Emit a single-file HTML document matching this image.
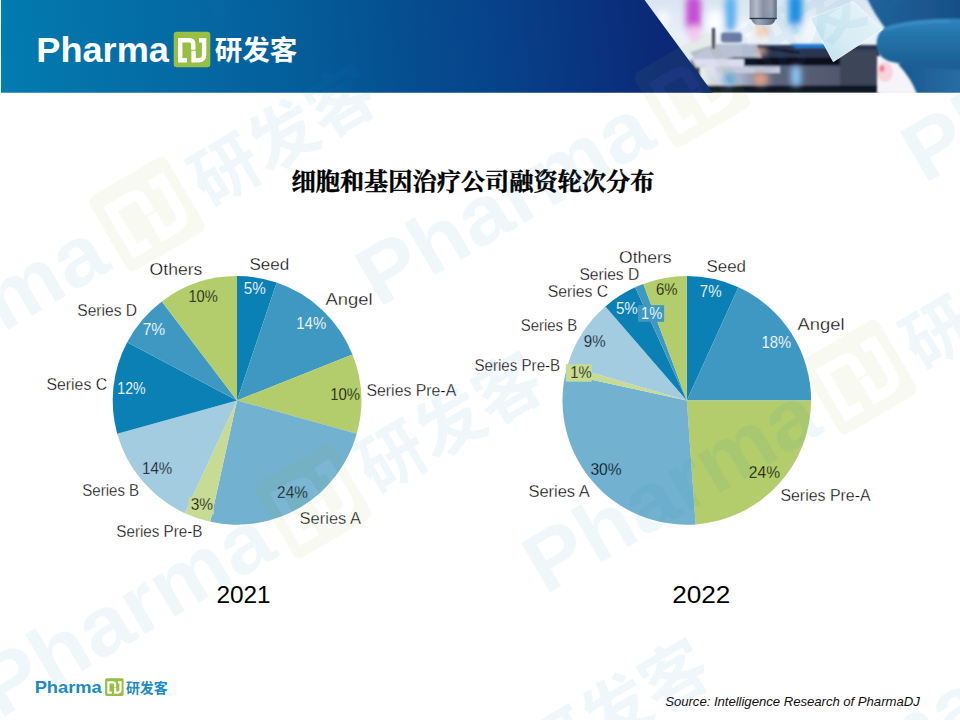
<!DOCTYPE html>
<html lang="zh-CN">
<head>
<meta charset="utf-8">
<title>细胞和基因治疗公司融资轮次分布 - PharmaDJ 研发客</title>
<style>
html,body{margin:0;padding:0;background:#fff}
body{width:960px;height:720px;overflow:hidden;position:relative;font-family:"Liberation Sans",sans-serif}
#slide{position:absolute;left:0;top:0;width:960px;height:720px;overflow:hidden;background:#fff}
svg{position:absolute;left:0;top:0;display:block}
svg text{font-family:"Liberation Sans",sans-serif}
svg text.cjk{font-family:"Liberation Sans","Noto Sans CJK SC",sans-serif;font-weight:bold;font-size:27.8px}
svg text.ttl{font-family:"Liberation Serif","Noto Serif CJK SC",serif;font-weight:bold;font-size:23.7px;fill:#000}
.lbl text{font-size:16px;stroke-width:.32px}
.lbl text.w{stroke-width:.16px}
.yr text{font-size:24.8px;fill:#000}
.src{font-size:13.2px;font-style:italic;fill:#111}
.brand{font-weight:bold;font-size:34.2px}
</style>
</head>
<body>
<div id="slide">
<svg width="960" height="720" viewBox="0 0 960 720">
<defs>
<linearGradient id="hdr" gradientUnits="userSpaceOnUse" x1="0" y1="70" x2="712" y2="10">
<stop offset="0" stop-color="#017cb1"/><stop offset=".14" stop-color="#0471a8"/><stop offset=".27" stop-color="#0569a3"/><stop offset=".42" stop-color="#045d99"/><stop offset=".56" stop-color="#054f90"/><stop offset=".7" stop-color="#074289"/><stop offset=".92" stop-color="#0b2977"/><stop offset="1" stop-color="#0b2673"/>
</linearGradient>
<g id="djbox"><rect x="173.7" y="31.8" width="36.6" height="35.4" rx="3.2"/></g>
<g id="djglyph" fill="none" stroke-width="4.4"><path d="M187 60.2H180.2V40.2H189.3Q193.3 40.2 193.3 44.2V49.7"/><path d="M199 40.2H204.1V54.8Q204.1 60.2 198.7 60.2H193.6V50.7"/></g>
<g id="cjklogo"><text class="cjk" x="214.8" y="60.2" textLength="82.6" lengthAdjust="spacingAndGlyphs">研发客</text></g>
<g id="pharma"><text class="brand" x="36.3" y="61.6" textLength="132.6" lengthAdjust="spacingAndGlyphs">Pharma</text></g>
<clipPath id="photoclip"><rect x="640" y="0" width="320" height="92.800"/></clipPath>
<linearGradient id="pbg" x1="0" y1="0" x2="0" y2="1"><stop offset="0" stop-color="#d9e5f1"/><stop offset=".4" stop-color="#ebf1f8"/><stop offset="1" stop-color="#e3e9f2"/></linearGradient>
<linearGradient id="obj" x1="0" y1="0" x2="1" y2="0"><stop offset="0" stop-color="#8e96a8"/><stop offset=".25" stop-color="#b4bccb"/><stop offset=".5" stop-color="#878fa2"/><stop offset=".8" stop-color="#9aa2b3"/><stop offset="1" stop-color="#666e82"/></linearGradient>
<linearGradient id="obj2" x1="0" y1="0" x2="1" y2="0"><stop offset="0" stop-color="#6c7488"/><stop offset=".3" stop-color="#a4acbd"/><stop offset="1" stop-color="#555d72"/></linearGradient>
<linearGradient id="glass" x1="1" y1="0" x2="0" y2="1"><stop offset="0" stop-color="#e9f5f9"/><stop offset=".6" stop-color="#d6ecf4"/><stop offset="1" stop-color="#b9ddeb"/></linearGradient>
<linearGradient id="thumb" x1="0" y1="0" x2="0" y2="1"><stop offset="0" stop-color="#2f86bf"/><stop offset=".35" stop-color="#2473aa"/><stop offset="1" stop-color="#1b5c91"/></linearGradient>
<linearGradient id="hand" x1="0" y1="0" x2="1" y2="0"><stop offset="0" stop-color="#21639a"/><stop offset="1" stop-color="#174f86"/></linearGradient>
<linearGradient id="palm" x1="0" y1="0" x2="1" y2="0"><stop offset="0" stop-color="#1b588e"/><stop offset="1" stop-color="#266ea5"/></linearGradient>
<linearGradient id="refl" gradientUnits="userSpaceOnUse" x1="700" y1="0" x2="880" y2="0"><stop offset="0" stop-color="#f2f4fa"/><stop offset=".22" stop-color="#a9b1c9"/><stop offset=".42" stop-color="#5c647b"/><stop offset="1" stop-color="#485066"/></linearGradient>
<filter id="b05" x="-10%" y="-10%" width="120%" height="120%"><feGaussianBlur stdDeviation=".5"/></filter>
<filter id="b1" x="-10%" y="-10%" width="120%" height="120%"><feGaussianBlur stdDeviation="1"/></filter>
<filter id="b3" x="-20%" y="-20%" width="140%" height="140%"><feGaussianBlur stdDeviation="3"/></filter>
</defs>

<g id="header">
<g id="photo" clip-path="url(#photoclip)">
<rect x="640" y="0" width="320" height="93" fill="url(#pbg)"/>
<g filter="url(#b3)">
<rect x="686" y="-4" width="15" height="36" rx="6" fill="#c44fd2"/>
<ellipse cx="694" cy="33" rx="7" ry="8" fill="#f3c6ee"/>
<rect x="725" y="-4" width="11" height="35" rx="5" fill="#5cb0ef"/>
<rect x="788.500" y="-6" width="13.500" height="34" rx="6" fill="#1f8ee2"/>
<ellipse cx="796.500" cy="29" rx="5" ry="5.500" fill="#b4e0f8"/>
<ellipse cx="715" cy="22" rx="9" ry="12" fill="#fbfdff"/>
<ellipse cx="663" cy="20" rx="7" ry="10" fill="#f4f8fc"/>
<ellipse cx="745" cy="30" rx="8" ry="9" fill="#f7fafd"/>
<ellipse cx="762" cy="31" rx="7" ry="6" fill="#f6cfae"/>
<ellipse cx="812" cy="30" rx="10" ry="12" fill="#f2f7fb"/>
</g>
<g filter="url(#b1)">
<!-- stage -->
<path d="M757 45H880V93H700L690 60L716 50Z" fill="#2b3450"/>
<path d="M690 52L716 44H757L762 58H730L700 66Z" fill="#b9c1d4"/>
<rect x="721" y="32.500" width="21" height="10" rx="3" fill="#6c7ba3"/>
<rect x="712" y="28" width="3" height="21" fill="#39405a"/>
<path d="M790 44H846L850 48H796Z" fill="#1c79d2"/>
<path d="M757 45.500L800 51.500V54L757 48Z" fill="#0d1222"/>
<rect x="700" y="66" width="180" height="20" fill="url(#refl)"/>
<path d="M732 57.500H853V65H741Z" fill="#0a0e1c"/>
<path d="M691 59H744V67.500H696Z" fill="#dcdcf0"/>
<path d="M715 66.500H780V73H718Z" fill="#c6cade"/>
<rect x="840" y="50" width="37" height="36" fill="#3c4558"/>
<rect x="700" y="85.500" width="178" height="8" fill="#0e1220"/>
</g>
<g filter="url(#b3)">
<rect x="755" y="73" width="12" height="12" rx="4" fill="#f2a07e"/>
<rect x="724" y="73" width="11" height="12" rx="4" fill="#62a9e2"/>
<rect x="791" y="66" width="10" height="20" rx="4" fill="#8cc6f8"/>
<ellipse cx="761" cy="51" rx="6" ry="4" fill="#e4a890"/>
</g>
<!-- objective -->
<g filter="url(#b05)">
<rect x="749.600" y="-2" width="27.200" height="20.400" fill="url(#obj)"/>
<path d="M750.500 18.500H776L774 22.500Q772 25 768 25H759Q755 25 753 22.500Z" fill="url(#obj2)"/>
<rect x="749.600" y="17.800" width="27.200" height="1.300" fill="#2f3242"/>
</g>
<!-- white/pink area right of stage -->
<g filter="url(#b1)">
<rect x="877" y="56" width="45" height="38" fill="#f6f4f8"/>
<ellipse cx="885" cy="72" rx="8" ry="10" fill="#f8d4dc"/>
<ellipse cx="882" cy="68.500" rx="2.600" ry="3.600" fill="#ee7f98"/>
</g>
<!-- glove -->
<g filter="url(#b1)">
<path d="M867 -2H962V32H888Q874 14 867 -2Z" fill="url(#hand)"/>
<path d="M962 94H917Q911 78 898 64L962 60Z" fill="url(#palm)"/>
<path d="M962 19Q920 18 893 24.500Q876.500 29 876.500 44Q876.500 57 890 61.500Q920 69 962 70Z" fill="url(#thumb)"/>
<path d="M886 29Q905 22 950 21" fill="none" stroke="#3f93c9" stroke-width="3" opacity=".7"/>
</g>
<!-- slide -->
<g filter="url(#b05)">
<path d="M810 18.300L853.300 1.700L882.500 29.500L833.300 61.700Z" fill="url(#glass)" stroke="#f6fcfe" stroke-width=".8"/>
</g>
</g>

<path d="M1 0H644.6L712.8 92.8H1Z" fill="url(#hdr)"/>
<text class="brand" x="36.3" y="61.6" textLength="132.6" lengthAdjust="spacingAndGlyphs" fill="#fff">Pharma</text>
<use href="#djbox" fill="#96bf43"/><use href="#djglyph" stroke="#fff"/>
<g fill="#fff"><use href="#cjklogo"/></g>
</g>
<g id="title" fill="#000">
<text class="ttl" x="291.5" y="189.5" textLength="363" lengthAdjust="spacingAndGlyphs" stroke="#000" stroke-width=".4">细胞和基因治疗公司融资轮次分布</text>
</g>
<g id="pie2021">
<path fill="#0b80b4" d="M237 400.4L237 276.1A124.3 124.3 0 0 1 276.69 282.61Z"/>
<path fill="#3f98c1" d="M237 400.4L276.69 282.61A124.3 124.3 0 0 1 352.47 354.39Z"/>
<path fill="#b3cc6c" d="M237 400.4L352.47 354.39A124.3 124.3 0 0 1 356.77 433.65Z"/>
<path fill="#72b1cf" d="M237 400.4L356.77 433.65A124.3 124.3 0 0 1 210.28 521.79Z"/>
<path fill="#c7db94" d="M237 400.4L210.28 521.79A124.3 124.3 0 0 1 184.81 513.21Z"/>
<path fill="#a3cce0" d="M237 400.4L184.81 513.21A124.3 124.3 0 0 1 117.23 433.65Z"/>
<path fill="#0b80b4" d="M237 400.4L117.23 433.65A124.3 124.3 0 0 1 127.18 342.18Z"/>
<path fill="#3f98c1" d="M237 400.4L127.18 342.18A124.3 124.3 0 0 1 161.78 301.45Z"/>
<path fill="#b3cc6c" d="M237 400.4L161.78 301.45A124.3 124.3 0 0 1 237 276.1Z"/>
</g>
<g id="pie2022">
<path fill="#0b80b4" d="M686.8 400.4L686.8 276.1A124.3 124.3 0 0 1 738.44 287.33Z"/>
<path fill="#3f98c1" d="M686.8 400.4L738.44 287.33A124.3 124.3 0 0 1 811.1 400.4Z"/>
<path fill="#b3cc6c" d="M686.8 400.4L811.1 400.4A124.3 124.3 0 0 1 695.67 524.38Z"/>
<path fill="#72b1cf" d="M686.8 400.4L695.67 524.38A124.3 124.3 0 0 1 565.34 373.98Z"/>
<path fill="#c7db94" d="M686.8 400.4L565.34 373.98A124.3 124.3 0 0 1 567.54 365.38Z"/>
<path fill="#a3cce0" d="M686.8 400.4L567.54 365.38A124.3 124.3 0 0 1 605.4 306.46Z"/>
<path fill="#0b80b4" d="M686.8 400.4L605.4 306.46A124.3 124.3 0 0 1 635.16 287.33Z"/>
<path fill="#3f98c1" d="M686.8 400.4L635.16 287.33A124.3 124.3 0 0 1 643.36 283.94Z"/>
<path fill="#b3cc6c" d="M686.8 400.4L643.36 283.94A124.3 124.3 0 0 1 686.8 276.1Z"/>
</g>
<rect x="188.8" y="496.9" width="25" height="17.7" fill="#c7db94"/>
<rect x="638" y="305.2" width="26.1" height="16.6" fill="#3f98c1"/>
<rect x="565.8" y="364.2" width="26.1" height="17.5" fill="#c7db94"/>
<g class="lbl">
<text x="149.6" y="274.6" textLength="52.7" lengthAdjust="spacingAndGlyphs" fill="#000" stroke="#fff">Others</text>
<text x="188.4" y="301.5" textLength="29.4" lengthAdjust="spacingAndGlyphs" fill="#000" stroke="#b3cc6c">10%</text>
<text x="77.3" y="315.6" textLength="59.8" lengthAdjust="spacingAndGlyphs" fill="#000" stroke="#fff">Series D</text>
<text x="142.7" y="335" textLength="22.5" lengthAdjust="spacingAndGlyphs" fill="#fff" stroke="#3f98c1" class="w">7%</text>
<text x="46.5" y="390" textLength="60.6" lengthAdjust="spacingAndGlyphs" fill="#000" stroke="#fff">Series C</text>
<text x="117.3" y="393.7" textLength="28.3" lengthAdjust="spacingAndGlyphs" fill="#fff" stroke="#0b80b4" class="w">12%</text>
<text x="142.1" y="474.4" textLength="30.2" lengthAdjust="spacingAndGlyphs" fill="#000" stroke="#a3cce0">14%</text>
<text x="82.3" y="495.6" textLength="56.8" lengthAdjust="spacingAndGlyphs" fill="#000" stroke="#fff">Series B</text>
<text x="190.7" y="510.4" textLength="22.4" lengthAdjust="spacingAndGlyphs" fill="#000" stroke="#c7db94">3%</text>
<text x="116.3" y="536.5" textLength="86.2" lengthAdjust="spacingAndGlyphs" fill="#000" stroke="#fff">Series Pre-B</text>
<text x="330.2" y="399.8" textLength="29.8" lengthAdjust="spacingAndGlyphs" fill="#000" stroke="#b3cc6c">10%</text>
<text x="366.5" y="395.8" textLength="89.7" lengthAdjust="spacingAndGlyphs" fill="#000" stroke="#fff">Series Pre-A</text>
<text x="249.4" y="270.4" textLength="39.7" lengthAdjust="spacingAndGlyphs" fill="#000" stroke="#fff">Seed</text>
<text x="243.8" y="294.4" textLength="22" lengthAdjust="spacingAndGlyphs" fill="#fff" stroke="#0b80b4" class="w">5%</text>
<text x="325.4" y="304.6" textLength="47.1" lengthAdjust="spacingAndGlyphs" fill="#000" stroke="#fff">Angel</text>
<text x="296.3" y="328.5" textLength="29.9" lengthAdjust="spacingAndGlyphs" fill="#fff" stroke="#3f98c1" class="w">14%</text>
<text x="277.1" y="497.7" textLength="30.8" lengthAdjust="spacingAndGlyphs" fill="#000" stroke="#72b1cf">24%</text>
<text x="299.6" y="524.4" textLength="61.4" lengthAdjust="spacingAndGlyphs" fill="#000" stroke="#fff">Series A</text>
<text x="579.4" y="279.6" textLength="59.9" lengthAdjust="spacingAndGlyphs" fill="#000" stroke="#fff">Series D</text>
<text x="547.7" y="296.9" textLength="60.6" lengthAdjust="spacingAndGlyphs" fill="#000" stroke="#fff">Series C</text>
<text x="615.9" y="313.7" textLength="21.9" lengthAdjust="spacingAndGlyphs" fill="#fff" stroke="#0b80b4" class="w">5%</text>
<text x="641.1" y="318.6" textLength="21.2" lengthAdjust="spacingAndGlyphs" fill="#fff" stroke="#3f98c1" class="w">1%</text>
<text x="520.7" y="330.6" textLength="56.4" lengthAdjust="spacingAndGlyphs" fill="#000" stroke="#fff">Series B</text>
<text x="583.8" y="346.9" textLength="21.8" lengthAdjust="spacingAndGlyphs" fill="#000" stroke="#a3cce0">9%</text>
<text x="474.4" y="371.2" textLength="85.8" lengthAdjust="spacingAndGlyphs" fill="#000" stroke="#fff">Series Pre-B</text>
<text x="570.2" y="377.5" textLength="21.4" lengthAdjust="spacingAndGlyphs" fill="#000" stroke="#c7db94">1%</text>
<text x="619" y="262.5" textLength="52.6" lengthAdjust="spacingAndGlyphs" fill="#000" stroke="#fff">Others</text>
<text x="706.5" y="271.5" textLength="39.5" lengthAdjust="spacingAndGlyphs" fill="#000" stroke="#fff">Seed</text>
<text x="655.9" y="295" textLength="21.6" lengthAdjust="spacingAndGlyphs" fill="#000" stroke="#b3cc6c">6%</text>
<text x="699.8" y="296.7" textLength="21.8" lengthAdjust="spacingAndGlyphs" fill="#fff" stroke="#0b80b4" class="w">7%</text>
<text x="761.5" y="348.4" textLength="29.5" lengthAdjust="spacingAndGlyphs" fill="#fff" stroke="#3f98c1" class="w">18%</text>
<text x="797.5" y="330.2" textLength="47" lengthAdjust="spacingAndGlyphs" fill="#000" stroke="#fff">Angel</text>
<text x="590.4" y="474.6" textLength="31.2" lengthAdjust="spacingAndGlyphs" fill="#000" stroke="#72b1cf">30%</text>
<text x="528.4" y="496.5" textLength="61.4" lengthAdjust="spacingAndGlyphs" fill="#000" stroke="#fff">Series A</text>
<text x="748.8" y="477.7" textLength="31.2" lengthAdjust="spacingAndGlyphs" fill="#000" stroke="#b3cc6c">24%</text>
<text x="780.4" y="500.6" textLength="90.2" lengthAdjust="spacingAndGlyphs" fill="#000" stroke="#fff">Series Pre-A</text>
</g>
<g class="yr">
<text x="216.4" y="603.1" textLength="54.2" lengthAdjust="spacingAndGlyphs">2021</text>
<text x="672.2" y="603.1" textLength="58.2" lengthAdjust="spacingAndGlyphs">2022</text>
</g>
<g id="footer" transform="translate(16.3 662.1) scale(.506)">
<text class="brand" x="36.3" y="61.6" textLength="132.6" lengthAdjust="spacingAndGlyphs" fill="#1b8bc4">Pharma</text>
<g transform="translate(1.8 0)"><use href="#djbox" fill="#96bf43"/><use href="#djglyph" stroke="#fff"/>
<g fill="#1b8bc4"><use href="#cjklogo"/></g></g>
</g>
<text class="src" x="665.2" y="705.6" textLength="254.6" lengthAdjust="spacing">Source: Intelligence Research of PharmaDJ</text>
<g id="watermark" opacity="0.063" aria-hidden="true" pointer-events="none">
<defs><g id="wm"><g fill="#1b8bc4"><use href="#pharma"/><use href="#cjklogo"/></g><use href="#djbox" fill="#96bf43"/><use href="#djglyph" stroke="#fff"/></g></defs>
<use href="#wm" transform="translate(147 214) rotate(-30.4) scale(2.45) translate(-192 -49.5)"/>
<use href="#wm" transform="translate(692.5 90) rotate(-30.4) scale(2.45) translate(-192 -49.5)"/>
<use href="#wm" transform="translate(313.5 501) rotate(-30.4) scale(2.45) translate(-192 -49.5)"/>
<use href="#wm" transform="translate(859 377) rotate(-30.4) scale(2.45) translate(-192 -49.5)"/>
<use href="#wm" transform="translate(1238 -34) rotate(-30.4) scale(2.45) translate(-192 -49.5)"/>
<use href="#wm" transform="translate(480 788) rotate(-30.4) scale(2.45) translate(-192 -49.5)"/>
<use href="#wm" transform="translate(1025.5 664) rotate(-30.4) scale(2.45) translate(-192 -49.5)"/>
<use href="#wm" transform="translate(-232 625) rotate(-30.4) scale(2.45) translate(-192 -49.5)"/>
<use href="#wm" transform="translate(526 -197) rotate(-30.4) scale(2.45) translate(-192 -49.5)"/>
</g>
</svg>
</div>
</body>
</html>
